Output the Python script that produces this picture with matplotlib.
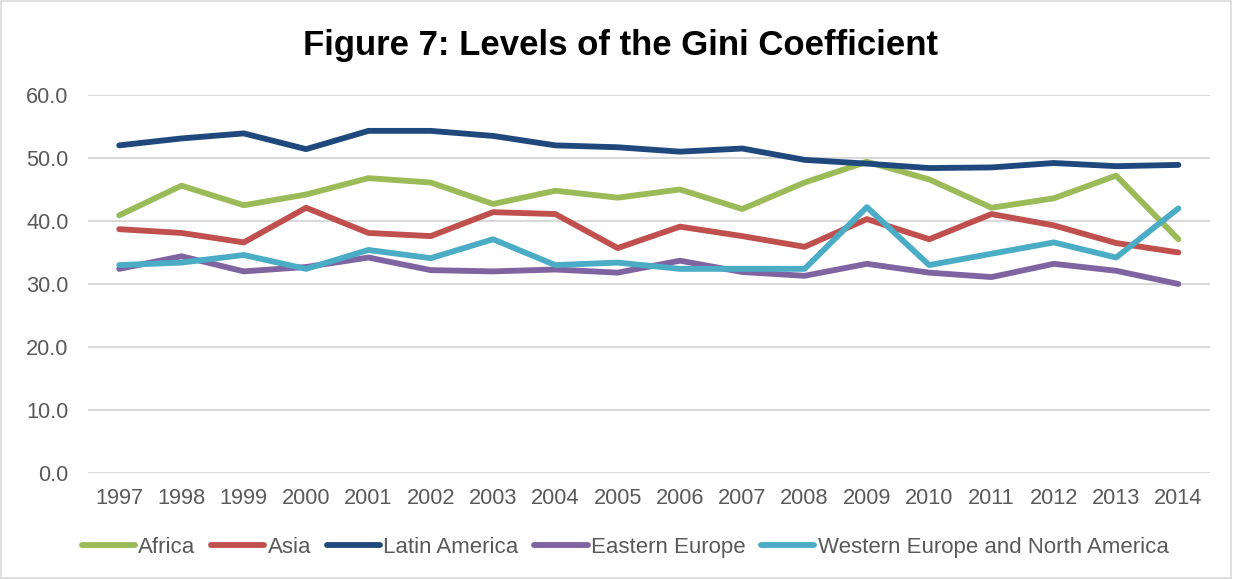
import matplotlib.pyplot as plt
from matplotlib.patches import Rectangle

plt.rcParams["font.family"] = ["Liberation Sans", "DejaVu Sans"]

# -------------------------
# Data
# -------------------------
years = [str(y) for y in range(1997, 2015)]

africa = [40.9, 45.6, 42.5, 44.2, 46.8, 46.1, 42.7, 44.8, 43.7, 45.0,
          41.9, 46.1, 49.4, 46.6, 42.1, 43.6, 47.2, 37.1]
asia = [38.7, 38.1, 36.6, 42.1, 38.1, 37.6, 41.4, 41.1, 35.7, 39.1,
        37.6, 35.9, 40.3, 37.1, 41.1, 39.3, 36.5, 35.0]
latin_america = [52.0, 53.1, 53.9, 51.4, 54.3, 54.3, 53.5, 52.0, 51.7, 51.0,
                 51.5, 49.7, 49.1, 48.4, 48.5, 49.2, 48.7, 48.9]
eastern_europe = [32.4, 34.4, 32.0, 32.7, 34.2, 32.2, 32.0, 32.3, 31.8, 33.7,
                  31.9, 31.3, 33.2, 31.8, 31.1, 33.2, 32.1, 30.0]
western_europe = [33.0, 33.4, 34.6, 32.4, 35.4, 34.1, 37.1, 33.0, 33.4, 32.4,
                  32.4, 32.4, 42.2, 33.0, 34.8, 36.6, 34.2, 42.0]

series = [
    ("Africa", africa, "#9BBB59"),
    ("Asia", asia, "#C0504D"),
    ("Latin America", latin_america, "#1F497D"),
    ("Eastern Europe", eastern_europe, "#8064A2"),
    ("Western Europe and North America", western_europe, "#4BACC6"),
]

y_ticks = [0, 10, 20, 30, 40, 50, 60]

# -------------------------
# Figure
# -------------------------
fig = plt.figure(figsize=(12.33, 5.79), dpi=100)
ax = fig.add_axes([0.0714, 0.183, 0.9096, 0.653])

x = list(range(len(years)))
for name, vals, col in series:
    ax.plot(x, vals, color=col, lw=4.2, solid_capstyle="round",
            solid_joinstyle="round", label=name, zorder=3)

ax.set_xlim(-0.5, len(years) - 0.5)
ax.set_ylim(0, 60)
ax.set_yticks(y_ticks)
ax.set_yticklabels([f"{v:.1f}" for v in y_ticks])
ax.set_xticks(x)
ax.set_xticklabels(years)

ax.grid(axis="y", color="#D9D9D9", lw=1.5, zorder=0)
ax.set_axisbelow(True)
for s in ax.spines.values():
    s.set_visible(False)
ax.tick_params(axis="both", length=0, labelsize=15.7, colors="#595959")
ax.tick_params(axis="x", pad=11)
ax.tick_params(axis="y", pad=14)

fig.text(0.503, 0.922, "Figure 7: Levels of the Gini Coefficient",
         ha="center", va="center", fontsize=25, fontweight="bold", color="black")

fig.legend(loc="center", bbox_to_anchor=(0.507, 0.055), ncol=5, frameon=False,
           fontsize=16, handlelength=2.4, handletextpad=0.15,
           columnspacing=0.7, labelcolor="#595959")

# light frame around the chart
fig.patches.append(Rectangle((0.001, 0.002), 0.997, 0.996, transform=fig.transFigure,
                             fill=False, edgecolor="#D9D9D9", lw=1.2))

fig.savefig("out.png", dpi=100)
